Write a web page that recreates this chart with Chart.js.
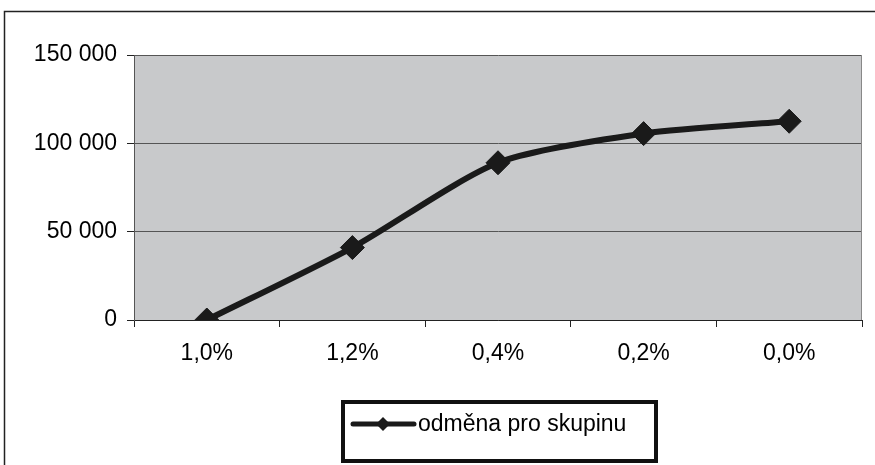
<!DOCTYPE html>
<html>
<head>
<meta charset="utf-8">
<script src="https://cdn.jsdelivr.net/npm/chart.js@4/dist/chart.umd.min.js"></script>
<style>
html,body{margin:0;padding:0;background:#fff;}
#wrap{width:875px;height:465px;position:relative;}
</style>
</head>
<body>
<div id="wrap"><canvas id="c" width="875" height="465"></canvas></div>
<script>
const categories = ['1,0%', '1,2%', '0,4%', '0,2%', '0,0%'];
const seriesName = 'odměna pro skupinu';
const seriesValues = [0, 41000, 89000, 105500, 112500];
const yTicks = [0, 50000, 100000, 150000];

const FONT = "'Liberation Sans', Arial, sans-serif";

function fmt(v){ return String(v).replace(/\B(?=(\d{3})+(?!\d))/g, ' '); }

const decor = {
  id: 'decor',
  beforeDraw(chart){
    const {ctx, chartArea:a} = chart;
    ctx.save();
    ctx.fillStyle = '#ffffff';
    ctx.fillRect(0,0,chart.width,chart.height);
    ctx.fillStyle = '#c8c9cb';
    ctx.fillRect(a.left, a.top, a.right-a.left, a.bottom-a.top);
    ctx.strokeStyle = '#222';
    ctx.lineWidth = 1.5;
    ctx.beginPath();
    ctx.moveTo(4.5, 465); ctx.lineTo(4.5, 11.5); ctx.lineTo(875, 11.5);
    ctx.stroke();
    ctx.restore();
  },
  afterDraw(chart){
    const {ctx, chartArea:a} = chart;
    ctx.save();
    ctx.strokeStyle = '#888';
    ctx.lineWidth = 1;
    ctx.beginPath();
    ctx.moveTo(a.right-0.5, a.top); ctx.lineTo(a.right-0.5, a.bottom);
    ctx.stroke();
    const bx = 343, by = 402, bw = 313, bh = 59;
    ctx.strokeStyle = '#111';
    ctx.lineWidth = 4;
    ctx.strokeRect(bx, by, bw, bh);
    const ly = 424;
    ctx.strokeStyle = '#1a1a1a';
    ctx.lineWidth = 5;
    ctx.lineCap = 'round';
    ctx.beginPath();
    ctx.moveTo(353, ly); ctx.lineTo(414, ly);
    ctx.stroke();
    ctx.fillStyle = '#1a1a1a';
    ctx.beginPath();
    const cx = 383, r = 7;
    ctx.moveTo(cx-r, ly); ctx.lineTo(cx, ly-r); ctx.lineTo(cx+r, ly); ctx.lineTo(cx, ly+r); ctx.closePath();
    ctx.fill();
    ctx.fillStyle = '#000';
    ctx.font = '23px ' + FONT;
    ctx.textBaseline = 'middle';
    ctx.textAlign = 'left';
    ctx.fillText(seriesName, 418, ly+1);
    ctx.restore();
  }
};

new Chart(document.getElementById('c'), {
  type: 'line',
  data: {
    labels: categories,
    datasets: [{
      label: seriesName,
      data: seriesValues,
      borderColor: '#1a1a1a',
      backgroundColor: '#1a1a1a',
      borderWidth: 6,
      tension: 0.25,
      pointStyle: 'rectRot',
      pointRadius: 12,
      pointBorderWidth: 1,
      pointBorderColor: '#1a1a1a',
      pointBackgroundColor: '#1a1a1a'
    }]
  },
  options: {
    responsive: false,
    animation: false,
    events: [],
    layout: { padding: { left: 0, top: 55, right: 9, bottom: 0 } },
    plugins: { legend: { display: false }, tooltip: { enabled: false } },
    scales: {
      x: {
        type: 'category',
        offset: true,
        afterFit(s){ s.height = 145; },
        grid: { offset: true, drawOnChartArea: false, color: '#222', tickLength: 7, lineWidth: 1 },
        border: { color: '#222', width: 1 },
        ticks: { color: '#000', font: { family: FONT, size: 23 }, padding: 13, maxRotation: 0 }
      },
      y: {
        min: 0, max: 150000,
        afterFit(s){ s.width = 134; },
        afterBuildTicks(s){ s.ticks = yTicks.map(v => ({ value: v })); },
        grid: { color: '#555', tickColor: '#222', tickLength: 7, lineWidth: 1 },
        border: { color: '#555', width: 1 },
        ticks: { color: '#000', font: { family: FONT, size: 23 }, padding: 10, callback: v => fmt(v) }
      }
    }
  },
  plugins: [decor]
});
</script>
</body>
</html>
